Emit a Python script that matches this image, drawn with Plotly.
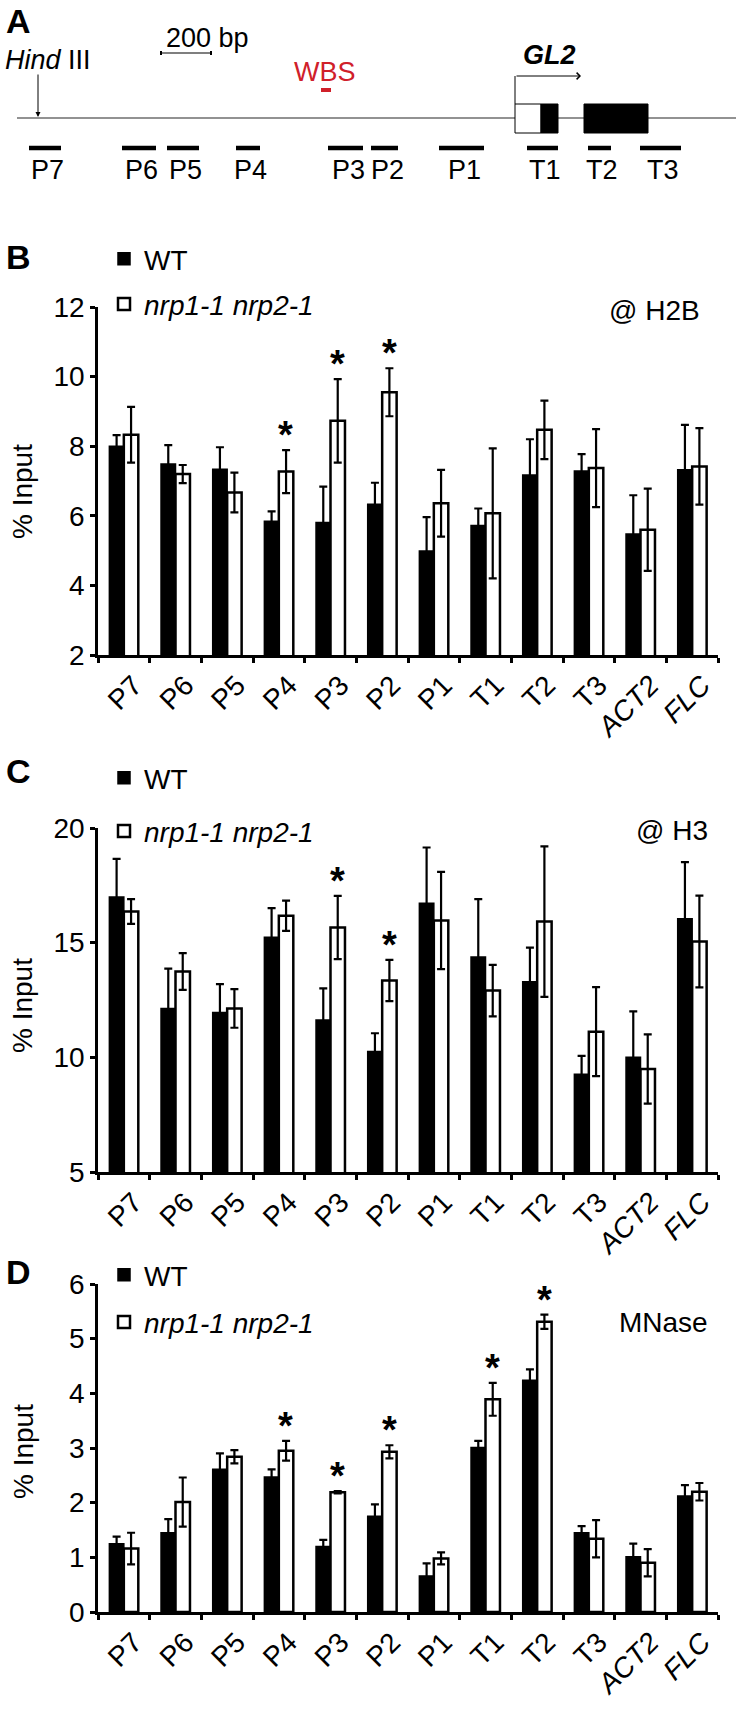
import plotly.graph_objects as go

W, H = 739, 1716
FONT = "Arial, Liberation Sans, Helvetica, sans-serif"

# ---------------- data ----------------
categories = ["P7", "P6", "P5", "P4", "P3", "P2", "P1", "T1", "T2", "T3", "ACT2", "FLC"]
tick_text = ["P7", "P6", "P5", "P4", "P3", "P2", "P1", "T1", "T2", "T3", "<i>ACT2</i>", "<i>FLC</i>"]

h2b_wt = [8.00, 7.49, 7.34, 5.84, 5.81, 6.33, 4.99, 5.72, 7.17, 7.29, 5.48, 7.32]
h2b_wt_err = [0.32, 0.54, 0.63, 0.29, 1.03, 0.62, 0.97, 0.49, 1.03, 0.48, 1.11, 1.29]
h2b_mut = [8.33, 7.20, 6.67, 7.27, 8.73, 9.55, 6.36, 6.07, 8.47, 7.37, 5.60, 7.42]
h2b_mut_err = [0.80, 0.26, 0.57, 0.62, 1.20, 0.69, 0.96, 1.87, 0.84, 1.12, 1.18, 1.10]
h2b_sig = ["P4", "P3", "P2"]

h3_wt = [16.99, 12.13, 11.95, 15.24, 11.63, 10.25, 16.72, 14.37, 13.30, 9.26, 10.00, 16.04]
h3_wt_err = [1.66, 1.74, 1.24, 1.27, 1.38, 0.80, 2.43, 2.53, 1.48, 0.80, 2.00, 2.47]
h3_mut = [16.36, 13.74, 12.13, 16.17, 15.66, 13.35, 15.97, 12.91, 15.92, 11.12, 9.49, 15.05]
h3_mut_err = [0.54, 0.80, 0.84, 0.66, 1.38, 0.90, 2.12, 1.12, 3.28, 1.94, 1.51, 2.00]
h3_sig = ["P3", "P2"]

mn_wt = [1.25, 1.45, 2.61, 2.47, 1.20, 1.75, 0.66, 3.01, 4.24, 1.45, 1.01, 2.12]
mn_wt_err = [0.13, 0.25, 0.29, 0.14, 0.12, 0.22, 0.23, 0.12, 0.20, 0.12, 0.24, 0.20]
mn_mut = [1.16, 2.01, 2.84, 2.95, 2.19, 2.93, 0.98, 3.89, 5.31, 1.34, 0.90, 2.20]
mn_mut_err = [0.29, 0.45, 0.12, 0.18, 0.02, 0.12, 0.11, 0.30, 0.13, 0.34, 0.25, 0.16]
mn_sig = ["P4", "P3", "P2", "T1", "T2"]

# Panel A: gene map (bp, HindIII site = 0)
primer_names = ["P7", "P6", "P5", "P4", "P3", "P2", "P1", "T1", "T2", "T3"]
primer_start = [-36, 336, 516, 792, 1160, 1332, 1604, 1956, 2200, 2408]
primer_end = [92, 472, 644, 888, 1300, 1440, 1784, 2080, 2292, 2572]
exon_start = [1908, 2012, 2184]
exon_end = [2012, 2080, 2440]
exon_fill = ["white", "black", "black"]
locus_start, locus_end = -84, 2792
tss_bp = 1908
wbs_start, wbs_end = 1132, 1172
scale_start, scale_end = 492, 692

LEGEND_WT = "WT"
LEGEND_MUT = "<i>nrp1-1 nrp2-1</i>"


def px2x(px):
    return px / W


def py2y(py):
    return 1 - py / H


fig = go.Figure()

panels = [
    dict(xa="x", ya="y", leg="legend", wt=h2b_wt, wte=h2b_wt_err, mu=h2b_mut, mue=h2b_mut_err, sig=h2b_sig),
    dict(xa="x2", ya="y2", leg="legend2", wt=h3_wt, wte=h3_wt_err, mu=h3_mut, mue=h3_mut_err, sig=h3_sig),
    dict(xa="x3", ya="y3", leg="legend3", wt=mn_wt, wte=mn_wt_err, mu=mn_mut, mue=mn_mut_err, sig=mn_sig),
]

for i, p in enumerate(panels):
    fig.add_trace(go.Bar(
        x=categories, y=p["wt"], name=LEGEND_WT, xaxis=p["xa"], yaxis=p["ya"],
        legend=p["leg"], legendgroup=f"wt{i}",
        marker=dict(color="black", line=dict(color="black", width=1.5)),
        error_y=dict(type="data", array=p["wte"], visible=True, color="black", thickness=2.2, width=4),
    ))
    fig.add_trace(go.Bar(
        x=categories, y=p["mu"], name=LEGEND_MUT, xaxis=p["xa"], yaxis=p["ya"],
        legend=p["leg"], legendgroup=f"mu{i}",
        marker=dict(color="white", line=dict(color="black", width=2.5)),
        error_y=dict(type="data", array=p["mue"], visible=True, color="black", thickness=2.2, width=4),
    ))
    for c in p["sig"]:
        k = categories.index(c)
        fig.add_annotation(
            x=c, y=p["mu"][k] + p["mue"][k], xref=p["xa"], yref=p["ya"],
            text="<b>*</b>", showarrow=False, xshift=7, yshift=-8, yanchor="bottom", xanchor="center",
            font=dict(family=FONT, size=38, color="black"),
        )

# axes for bar panels
x_dom = [px2x(98), px2x(718)]
y_ranges = [(2, 12, 2, 307, 655), (5, 20, 5, 828, 1172), (0, 6, 1, 1284, 1612)]
axis_common = dict(showline=True, linecolor="black", linewidth=2.5, ticks="outside", ticklen=5,
                   tickwidth=2.5, tickcolor="black", showgrid=False, zeroline=False, automargin=False,
                   tickfont=dict(family=FONT, size=28, color="black"))
for i, (lo, hi, step, top, bot) in enumerate(y_ranges):
    sfx = "" if i == 0 else str(i + 1)
    fig.update_layout(**{
        f"xaxis{sfx}": dict(domain=x_dom, anchor=f"y{sfx}", type="category",
                            categoryorder="array", categoryarray=categories,
                            tickvals=categories, ticktext=tick_text, tickson="boundaries",
                            tickangle=-45, ticklabelshift=10, **axis_common),
        f"yaxis{sfx}": dict(domain=[py2y(bot), py2y(top)], anchor=f"x{sfx}", range=[lo, hi],
                            tickvals=list(range(lo, hi + 1, step)), **axis_common),
    })
    fig.add_annotation(x=px2x(23), y=py2y([492, 1006, 1452][i]), xref="paper", yref="paper",
                       text="% Input", textangle=-90, showarrow=False,
                       xanchor="center", yanchor="middle",
                       font=dict(family=FONT, size=28, color="black"))

# side labels and panel letters
for txt, px, py in [("@ H2B", 702, 311), ("@ H3", 710, 830), ("MNase", 710, 1322)]:
    fig.add_annotation(x=px2x(px), y=py2y(py), xref="paper", yref="paper", text=txt,
                       showarrow=False, xanchor="right", yanchor="middle",
                       font=dict(family=FONT, size=28, color="black"))
for txt, py in [("A", 21), ("B", 257), ("C", 771), ("D", 1272)]:
    fig.add_annotation(x=px2x(4), y=py2y(py), xref="paper", yref="paper", text=f"<b>{txt}</b>",
                       showarrow=False, xanchor="left", yanchor="middle",
                       font=dict(family=FONT, size=34, color="black"))

# legends
leg_common = dict(xanchor="left", yanchor="top", bgcolor="rgba(0,0,0,0)", borderwidth=0,
                  font=dict(family=FONT, size=28, color="black"), traceorder="grouped",
                  itemclick=False, itemdoubleclick=False)
fig.update_layout(
    legend=dict(x=px2x(104), y=py2y(234), tracegroupgap=6, **leg_common),
    legend2=dict(x=px2x(104), y=py2y(753), tracegroupgap=14, **leg_common),
    legend3=dict(x=px2x(104), y=py2y(1250), tracegroupgap=8, **leg_common),
)

# ---------------- Panel A ----------------
fig.update_layout(
    xaxis4=dict(domain=[0, 1], range=[-152, 2804], visible=False, anchor="y4", automargin=False),
    yaxis4=dict(domain=[py2y(190), 1], range=[190, 0], visible=False, anchor="x4", automargin=False),
)
fig.add_trace(go.Scatter(x=[None], y=[None], xaxis="x4", yaxis="y4", showlegend=False))

shapes = []
# locus line
shapes.append(dict(type="line", xref="x4", yref="y4", x0=locus_start, x1=locus_end, y0=118, y1=118,
                   line=dict(color="#6e6e6e", width=1.5)))
# exons
for s, e, f in zip(exon_start, exon_end, exon_fill):
    shapes.append(dict(type="rect", xref="x4", yref="y4", x0=s, x1=e, y0=104, y1=133,
                       fillcolor=f, line=dict(color="black", width=1)))
# primers
for s, e in zip(primer_start, primer_end):
    shapes.append(dict(type="line", xref="x4", yref="y4", x0=s, x1=e, y0=148, y1=148,
                       line=dict(color="black", width=4.5)))
# WBS
shapes.append(dict(type="rect", xref="x4", yref="y4", x0=wbs_start, x1=wbs_end, y0=88, y1=92,
                   fillcolor="#d0202a", line=dict(width=0)))
# TSS vertical
shapes.append(dict(type="line", xref="x4", yref="y4", x0=tss_bp, x1=tss_bp, y0=104, y1=76,
                   line=dict(color="black", width=1)))
# scale bar
shapes.append(dict(type="line", xref="x4", yref="y4", x0=scale_start, x1=scale_end, y0=53, y1=53,
                   line=dict(color="black", width=1.2)))
for sx in (scale_start, scale_end):
    shapes.append(dict(type="line", xref="x4", yref="y4", x0=sx, x1=sx, y0=51, y1=55,
                       line=dict(color="black", width=2)))
fig.update_layout(shapes=shapes)

# TSS arrow (horizontal)
fig.add_annotation(x=2172, y=76, ax=tss_bp, ay=76, xref="x4", yref="y4", axref="x4", ayref="y4",
                   text="", showarrow=True, arrowhead=4, arrowsize=1.3, arrowwidth=1, arrowcolor="black")
# HindIII arrow
fig.add_annotation(x=0, y=117, ax=0, ay=73, xref="x4", yref="y4", axref="x4", ayref="y4",
                   text="", showarrow=True, arrowhead=2, arrowsize=1, arrowwidth=1, arrowcolor="black")

for name, s, e in zip(primer_names, primer_start, primer_end):
    fig.add_annotation(x=(s + e) / 2 + 10, y=170, xref="x4", yref="y4", text=name, showarrow=False,
                       xanchor="center", yanchor="middle",
                       font=dict(family=FONT, size=27, color="black"))

fig.add_annotation(x=504, y=38, xref="x4", yref="y4", text="200 bp", showarrow=False, xanchor="left",
                   yanchor="middle", font=dict(family=FONT, size=27, color="black"))
fig.add_annotation(x=-140, y=60, xref="x4", yref="y4", text="<i>Hind</i> III", showarrow=False,
                   xanchor="left", yanchor="middle", font=dict(family=FONT, size=27, color="black"))
fig.add_annotation(x=1148, y=72, xref="x4", yref="y4", text="WBS", showarrow=False,
                   xanchor="center", yanchor="middle", font=dict(family=FONT, size=27, color="#d0202a"))
fig.add_annotation(x=2046, y=55, xref="x4", yref="y4", text="<b><i>GL2</i></b>", showarrow=False,
                   xanchor="center", yanchor="middle", font=dict(family=FONT, size=27, color="black"))

fig.update_layout(
    width=W, height=H, margin=dict(l=0, r=0, t=0, b=0, autoexpand=False),
    paper_bgcolor="white", plot_bgcolor="white",
    barmode="group", bargap=0.44, bargroupgap=0,
    font=dict(family=FONT, color="black"),
)

fig.write_html("out.html", config={"displayModeBar": False},
               post_script="document.body.style.margin='0';document.body.style.padding='0';")
